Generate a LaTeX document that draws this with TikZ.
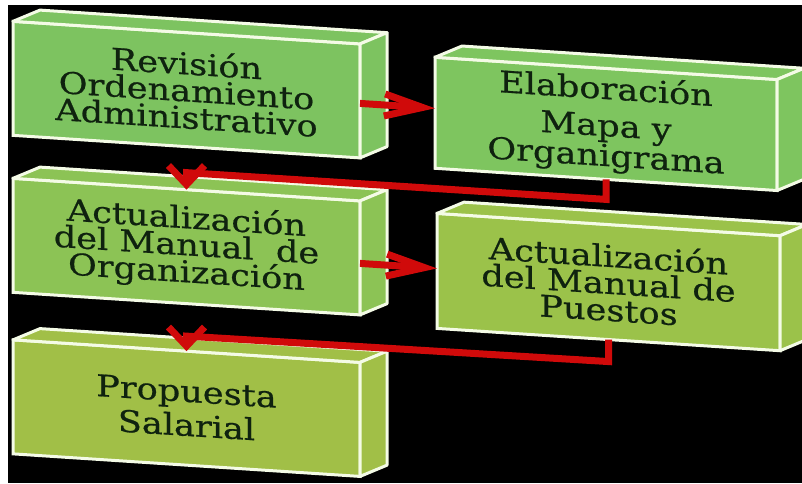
\documentclass[tikz,border=0pt]{standalone}
\usepackage{fontspec}
\newfontfamily\boxfont[FakeStretch=1.17,FakeBold=0.6]{DejaVu Serif}
\usetikzlibrary{arrows.meta}
\pgfdeclarelayer{edgelayer}
\pgfdeclarelayer{nodelayer}
\pgfsetlayers{main,nodelayer,edgelayer}
\definecolor{gA}{HTML}{7DC360}
\definecolor{gB}{HTML}{7EC55F}
\definecolor{gC}{HTML}{8CC355}
\definecolor{gD}{HTML}{9BC24A}
\definecolor{gE}{HTML}{A1BF47}
\definecolor{rim}{HTML}{F4FBE6}
\definecolor{ink}{HTML}{0F220F}
\definecolor{flowred}{HTML}{D00A0A}
\tikzset{font=\boxfont\fontsize{30}{27}\selectfont}
\tikzstyle{stage}=[rectangle,draw=rim,line width=3pt,outer sep=0pt,inner sep=0pt,minimum width=347pt,minimum height=114pt,align=center,text=ink,transform shape]
\tikzstyle{face}=[draw=rim,line width=3pt,line join=round]
\tikzstyle{flow}=[draw=flowred,line width=7pt,-{Straight Barb[length=38pt,width=22pt]}]
\tikzstyle{drop}=[draw=flowred,line width=7pt,-{Straight Barb[length=19pt,width=36pt]}]

\begin{document}
\begin{tikzpicture}[x=1pt,y=-1pt]
	\fill[white] (0,0) rectangle (802,483);
	\fill[black] (8,5) rectangle (802,483);
	\useasboundingbox (0,0) rectangle (802,483);
	\begin{scope}[yslant=-0.065]
	\begin{pgfonlayer}{nodelayer}
		\node [style=stage, fill=gA] (1) at (186.5, 77.5) {Revisión\\Ordenamiento\\Administrativo};
		\node [style=stage, fill=gB, minimum width=342pt, minimum height=111pt] (2) at (606, 84.5) {Elaboración\\[10pt]Mapa y\\Organigrama};
		\node [style=stage, fill=gC] (3) at (186.5, 234.5) {Actualización\\del Manual\ \ de\\Organización};
		\node [style=stage, fill=gD, minimum width=343pt, minimum height=115pt] (4) at (608.5, 242.5) {Actualización\\del Manual de\\Puestos};
		\node [style=stage, fill=gE] (5) at (186.5, 396) {Propuesta\\[4pt]Salarial};
		\foreach \n/\c in {1/gA,2/gB,3/gC,4/gD,5/gE} {
			\draw[style=face, fill=\c] (\n.north west) -- ([xshift=27pt,yshift=13pt]\n.north west) -- ([xshift=27pt,yshift=13pt]\n.north east) -- (\n.north east) -- cycle;
			\draw[style=face, fill=\c] (\n.north east) -- ([xshift=27pt,yshift=13pt]\n.north east) -- ([xshift=27pt,yshift=13pt]\n.south east) -- (\n.south east) -- cycle;
		}
	\end{pgfonlayer}
	\begin{pgfonlayer}{edgelayer}
		\draw[style=flow] ([yshift=-2.5pt]1.east) to ([yshift=4.5pt]2.west);
		\draw[style=drop] (2.south) to ([yshift=-20pt]2.south) to ([yshift=17pt]3.north) to (3.north);
		\draw[style=flow] ([yshift=-5.5pt]3.east) to ([yshift=2.5pt]4.west);
		\draw[style=drop] (4.south) to ([yshift=-22pt]4.south) to ([yshift=15pt]5.north) to (5.north);
	\end{pgfonlayer}
	\end{scope}
\end{tikzpicture}
\end{document}
